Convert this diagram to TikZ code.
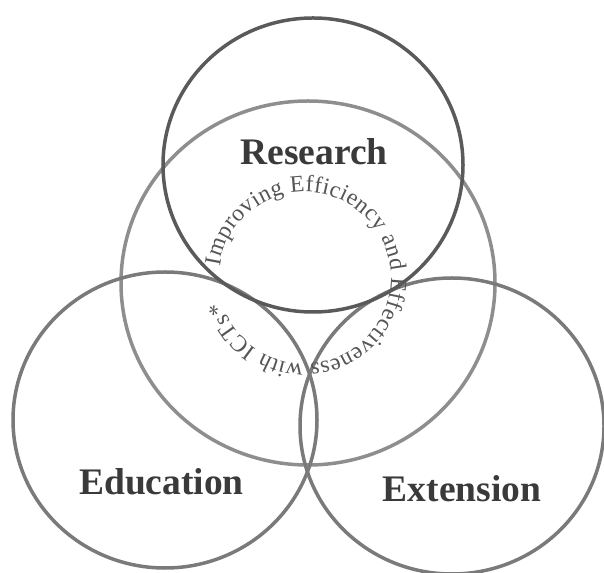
\documentclass[tikz,border=0pt]{standalone}
\usepackage{fontspec}
\setmainfont{Liberation Serif}
\usetikzlibrary{decorations.text}
\definecolor{ringdark}{HTML}{5A5A5A}
\definecolor{ringmid}{HTML}{7A7A7A}
\definecolor{ringlight}{HTML}{8E8E8E}
\definecolor{labgray}{HTML}{3A3A3A}
\definecolor{arcgray}{HTML}{555555}

\begin{document}
\begin{tikzpicture}[line cap=round,line join=round,x=1pt,y=1pt,
		ring/.style={line width=3.5pt},
		lab/.style={anchor=base,inner sep=0pt,text=labgray,font=\fontsize{37.5}{40}\selectfont\bfseries}]
		\useasboundingbox (0,0) rectangle (604,572);
		\draw [ring,color=ringlight] (308,289) circle [x radius=187, y radius=182];
		\draw [ring,color=ringmid] (165,152) circle [x radius=152, y radius=148];
		\draw [ring,color=ringmid] (452,146) circle [x radius=152, y radius=148];
		\draw [ring,color=ringdark] (313,407) circle [x radius=150, y radius=147];
		\coordinate (hub) at (305,294);
		\path [decorate,decoration={text along path,text align=fit to path,text color=arcgray,
			text={|\fontsize{23.5}{25}\selectfont|Improving Efficiency and Effectiveness with ICTs*}}]
			(hub) ++(172:86) arc [start angle=172, end angle=-164, radius=86];
		\node [lab] (research) at (314,407) {Research};
		\node [lab] (education) at (161.5,77) {Education};
		\node [lab] (extension) at (462,70) {Extension};
	\end{tikzpicture}
\end{document}
